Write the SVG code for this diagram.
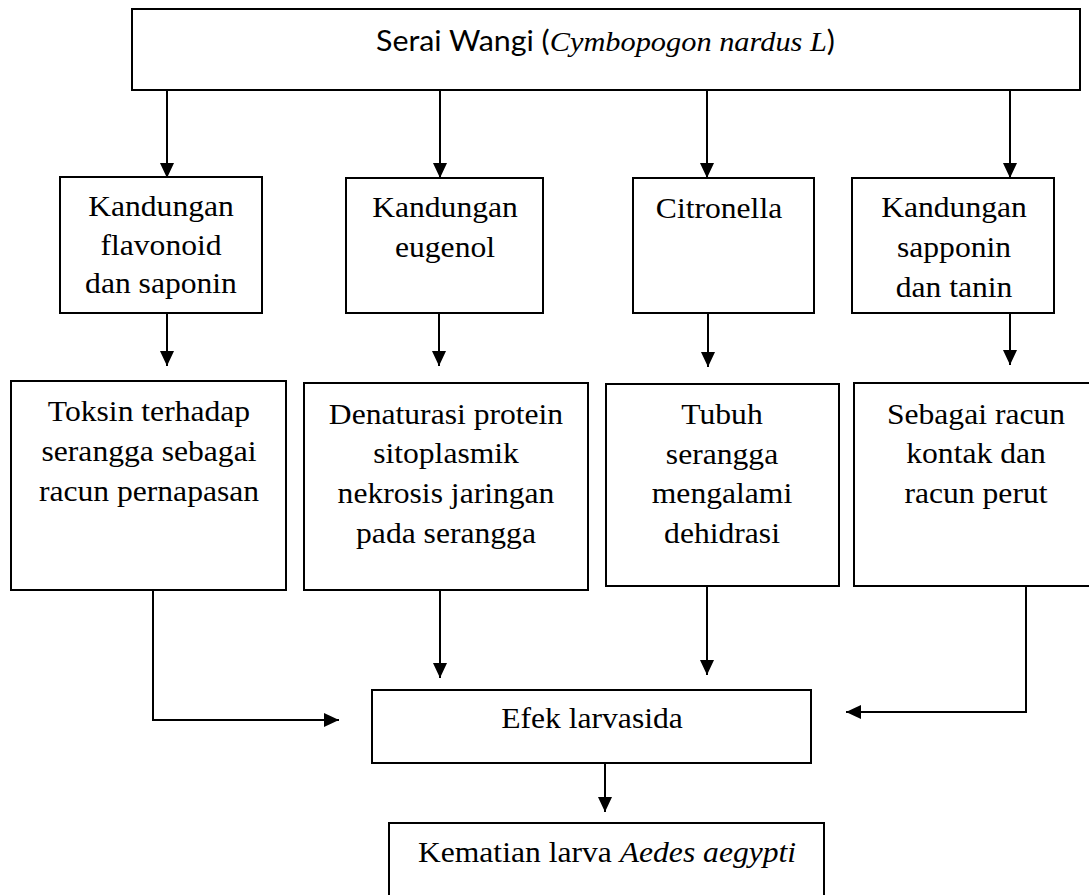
<svg xmlns="http://www.w3.org/2000/svg" width="1089" height="895" viewBox="0 0 1089 895">
<style>
.box{fill:#fff;stroke:#000;stroke-width:2}
.t{font-family:"Liberation Serif","Times New Roman",serif;font-size:29px;fill:#000;text-anchor:middle}
.s{font-family:Lato,"Liberation Sans",sans-serif;font-size:28px;fill:#000}
.c{fill:none;stroke:#000;stroke-width:2}
</style>
<defs>
<marker id="ah" markerUnits="userSpaceOnUse" markerWidth="16" markerHeight="16" refX="15" refY="7" orient="auto">
<path d="M0,0 L15,7 L0,14 z" fill="#000"/>
</marker>
</defs>
<rect width="1089" height="895" fill="#fff"/>

<g id="connectors">
<line class="c" x1="167" y1="90" x2="167" y2="178" marker-end="url(#ah)"/>
<line class="c" x1="440" y1="90" x2="440" y2="178" marker-end="url(#ah)"/>
<line class="c" x1="707" y1="90" x2="707" y2="178" marker-end="url(#ah)"/>
<line class="c" x1="1010" y1="90" x2="1010" y2="178" marker-end="url(#ah)"/>
<line class="c" x1="167" y1="313" x2="167" y2="366" marker-end="url(#ah)"/>
<line class="c" x1="439" y1="313" x2="439" y2="366" marker-end="url(#ah)"/>
<line class="c" x1="708" y1="313" x2="708" y2="367" marker-end="url(#ah)"/>
<line class="c" x1="1010" y1="313" x2="1010" y2="365" marker-end="url(#ah)"/>
<polyline class="c" points="153,590 153,720 339,720" marker-end="url(#ah)"/>
<line class="c" x1="440" y1="590" x2="440" y2="678" marker-end="url(#ah)"/>
<line class="c" x1="707" y1="586" x2="707" y2="675" marker-end="url(#ah)"/>
<polyline class="c" points="1026,586 1026,712 846,712" marker-end="url(#ah)"/>
<line class="c" x1="605" y1="763" x2="605" y2="812" marker-end="url(#ah)"/>
</g>

<g id="top">
<rect class="box" x="132" y="9" width="948" height="81"/>
<text class="s" x="376" y="51" textLength="459" lengthAdjust="spacingAndGlyphs">Serai Wangi (<tspan style="font-family:'Liberation Serif','Times New Roman',serif;font-style:italic">Cymbopogon nardus L</tspan>)</text>
</g>

<g id="n1">
<rect class="box" x="60" y="177" width="202" height="136"/>
<g transform="translate(161,0) scale(1.09,1)">
<text class="t" x="0" y="216">Kandungan</text>
<text class="t" x="0" y="255">flavonoid</text>
<text class="t" x="0" y="293">dan saponin</text>
</g>
</g>

<g id="n2">
<rect class="box" x="346" y="178" width="197" height="135"/>
<g transform="translate(445,0) scale(1.09,1)">
<text class="t" x="0" y="217">Kandungan</text>
<text class="t" x="0" y="257">eugenol</text>
</g>
</g>

<g id="n3">
<rect class="box" x="633" y="178" width="181" height="135"/>
<g transform="translate(719,0) scale(1.09,1)">
<text class="t" x="0" y="218">Citronella</text>
</g>
</g>

<g id="n4">
<rect class="box" x="852" y="178" width="202" height="135"/>
<g transform="translate(954,0) scale(1.09,1)">
<text class="t" x="0" y="217">Kandungan</text>
<text class="t" x="0" y="257">sapponin</text>
<text class="t" x="0" y="297">dan tanin</text>
</g>
</g>

<g id="n5">
<rect class="box" x="11" y="381" width="275" height="209"/>
<g transform="translate(149,0) scale(1.09,1)">
<text class="t" x="0" y="421">Toksin terhadap</text>
<text class="t" x="0" y="461">serangga sebagai</text>
<text class="t" x="0" y="501">racun pernapasan</text>
</g>
</g>

<g id="n6">
<rect class="box" x="304" y="383" width="284" height="207"/>
<g transform="translate(446,0) scale(1.09,1)">
<text class="t" x="0" y="424">Denaturasi protein</text>
<text class="t" x="0" y="463">sitoplasmik</text>
<text class="t" x="0" y="503">nekrosis jaringan</text>
<text class="t" x="0" y="543">pada serangga</text>
</g>
</g>

<g id="n7">
<rect class="box" x="606" y="384" width="233" height="202"/>
<g transform="translate(722,0) scale(1.09,1)">
<text class="t" x="0" y="424">Tubuh</text>
<text class="t" x="0" y="464">serangga</text>
<text class="t" x="0" y="503">mengalami</text>
<text class="t" x="0" y="543">dehidrasi</text>
</g>
</g>

<g id="n8">
<rect class="box" x="854" y="383" width="244" height="203"/>
<g transform="translate(976,0) scale(1.09,1)">
<text class="t" x="0" y="424">Sebagai racun</text>
<text class="t" x="0" y="463">kontak dan</text>
<text class="t" x="0" y="503">racun perut</text>
</g>
</g>

<g id="efek">
<rect class="box" x="372" y="690" width="439" height="73"/>
<g transform="translate(592,0) scale(1.09,1)">
<text class="t" x="0" y="728">Efek larvasida</text>
</g>
</g>

<g id="kematian">
<rect class="box" x="389" y="823" width="435" height="80"/>
<g transform="translate(607,0) scale(1.09,1)">
<text class="t" x="0" y="862">Kematian larva <tspan style="font-style:italic">Aedes aegypti</tspan></text>
</g>
</g>
</svg>
